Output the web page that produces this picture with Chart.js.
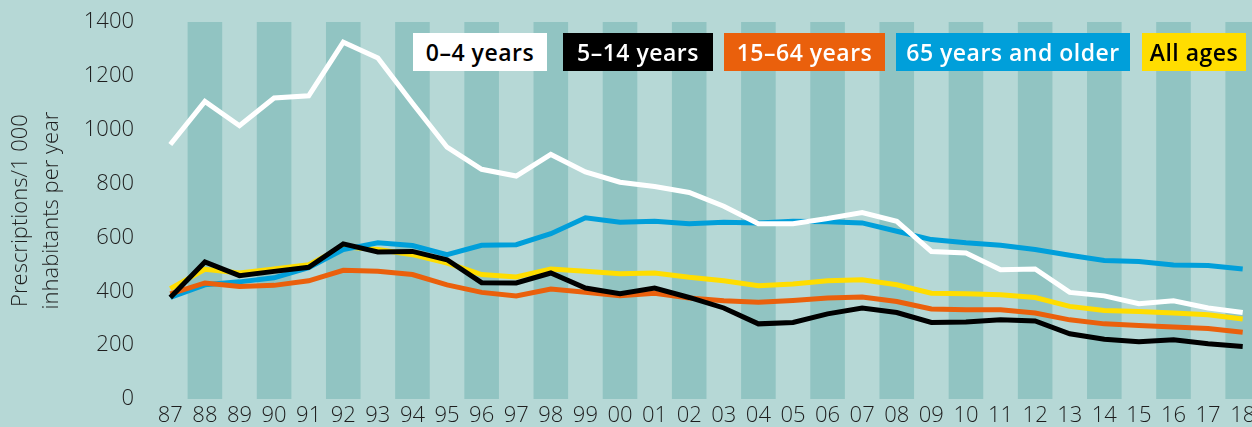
<!DOCTYPE html>
<html>
<head>
<meta charset="utf-8">
<script src="https://cdn.jsdelivr.net/npm/chart.js@4/dist/chart.umd.min.js"></script>
<style>
  html, body { margin: 0; padding: 0; background: #b6d8d6; overflow: hidden; }
  #wrap { position: relative; width: 1260px; height: 427px; }
  #legend span {
    position: absolute; top: 33px; display: block; height: 38px; line-height: 38px; text-align: center;
    font-family: "Open Sans", sans-serif; font-weight: 600; font-size: 23px; letter-spacing: 0.5px;
    white-space: nowrap;
  }
</style>
</head>
<body>
<div id="wrap">
  <canvas id="chart"></canvas>
  <div id="legend"></div>
</div>
<script>
// ============================================================
// Prescriptions per 1 000 inhabitants, by age group
// ============================================================

const years = ['87', '88', '89', '90', '91', '92', '93', '94', '95', '96', '97', '98', '99', '00', '01', '02',
  '03', '04', '05', '06', '07', '08', '09', '10', '11', '12', '13', '14', '15', '16', '17', '18'];

const age0to4 = [945, 1105, 1015, 1118, 1126, 1325, 1266, 1098, 935, 853, 828, 908, 843, 805, 789, 767,
  716, 651, 651, 670, 692, 660, 548, 542, 480, 483, 396, 383, 354, 365, 338, 321];
const age5to14 = [377, 509, 458, 474, 489, 576, 546, 548, 517, 432, 431, 468, 412, 391, 412, 377,
  338, 279, 284, 316, 338, 321, 284, 286, 294, 290, 242, 222, 213, 220, 205, 195];
const age15to64 = [390, 431, 418, 422, 439, 478, 474, 462, 424, 396, 383, 408, 396, 383, 393, 375,
  365, 359, 366, 375, 379, 362, 334, 331, 331, 319, 294, 279, 273, 267, 262, 248];
const age65plus = [377, 424, 435, 450, 488, 555, 580, 570, 536, 571, 573, 614, 673, 656, 660, 651,
  656, 654, 660, 658, 654, 623, 592, 580, 571, 555, 534, 514, 511, 498, 496, 483];
const allAges = [410, 482, 468, 483, 499, 565, 555, 536, 505, 462, 453, 483, 474, 465, 468, 452,
  439, 421, 427, 439, 443, 424, 393, 391, 387, 377, 344, 329, 325, 319, 313, 297];

const seriesNames = ['0–4 years', '5–14 years', '15–64 years', '65 years and older', 'All ages'];
const seriesColors = ['#ffffff', '#000000', '#ea600c', '#009fda', '#ffdd00'];
const legendTextColors = ['#000000', '#ffffff', '#ffffff', '#ffffff', '#000000'];
const legendLeft = [413, 563, 724, 896, 1142];
const legendWidth = [134, 150, 161, 234, 104];

const yTicks = [0, 200, 400, 600, 800, 1000, 1200, 1400];

const AXIS_FONT = { family: '"Open Sans", sans-serif', size: 22, weight: 300 };
const TEXT = '#1e1e1e';

// alternating column bands behind the lines
const bands = {
  id: 'bands',
  beforeDatasetsDraw(chart) {
    const { ctx, chartArea, scales } = chart;
    const x = scales.x;
    const half = (x.getPixelForValue(1) - x.getPixelForValue(0)) / 2;
    ctx.save();
    ctx.fillStyle = '#91c4c2';
    for (let i = 1; i < years.length; i += 2) {
      const cx = x.getPixelForValue(i);
      ctx.fillRect(cx - half, chartArea.top, half * 2, chartArea.bottom - chartArea.top);
    }
    ctx.restore();
  }
};

const seriesData = [age0to4, age5to14, age15to64, age65plus, allAges];

new Chart(document.getElementById('chart'), {
  type: 'line',
  data: {
    labels: years,
    datasets: seriesData.map((d, i) => ({
      label: seriesNames[i],
      data: d,
      borderColor: seriesColors[i],
      borderWidth: 5,
      pointRadius: 0,
      tension: 0,
      borderJoinStyle: 'miter',
      borderCapStyle: 'butt'
    }))
  },
  options: {
    responsive: true,
    maintainAspectRatio: false,
    animation: false,
    layout: { padding: { top: 22, right: 0, left: 0, bottom: 0 } },
    plugins: { legend: { display: false }, tooltip: { enabled: false } },
    scales: {
      x: {
        offset: true,
        grid: { display: false, drawTicks: false },
        border: { display: false },
        ticks: { font: AXIS_FONT, color: TEXT, padding: 4, maxRotation: 0, autoSkip: false },
        afterFit: s => { s.height = 28; }
      },
      y: {
        min: 0,
        max: 1400,
        grid: { display: false, drawTicks: false },
        border: { display: false },
        afterBuildTicks: s => { s.ticks = yTicks.map(v => ({ value: v })); },
        ticks: { font: AXIS_FONT, color: TEXT, padding: 19, callback: v => String(v) },
        title: {
          display: true,
          text: ['Prescriptions/1 000', 'inhabitants per year'],
          font: { ...AXIS_FONT, lineHeight: 1.42 },
          color: TEXT,
          padding: { top: 5, bottom: 0 }
        },
        afterFit: s => { s.width = 153; s.paddingTop = 0; s.paddingBottom = 0; }
      }
    }
  },
  plugins: [bands]
});

// legend boxes with the label inside
const legend = document.getElementById('legend');
seriesNames.forEach((name, i) => {
  const el = document.createElement('span');
  el.textContent = name;
  el.style.left = legendLeft[i] + 'px';
  el.style.width = legendWidth[i] + 'px';
  el.style.background = seriesColors[i];
  el.style.color = legendTextColors[i];
  legend.appendChild(el);
});
</script>
</body>
</html>
